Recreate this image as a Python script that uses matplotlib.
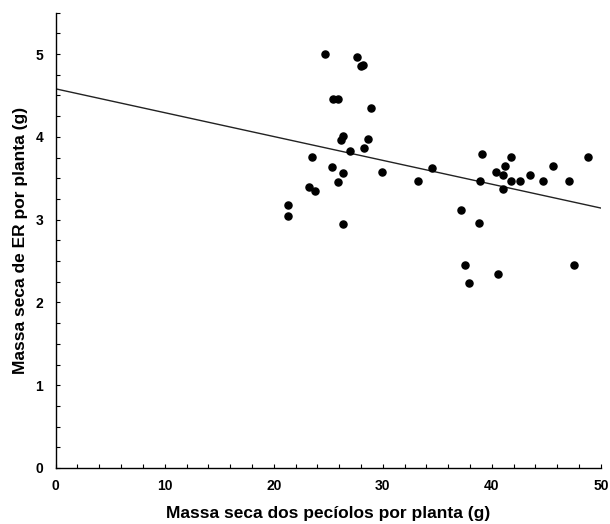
import matplotlib.pyplot as plt
import numpy as np
from matplotlib.ticker import MultipleLocator

# peciole dry mass (g) vs ER dry mass (g) per plant
peciolo = [24.7, 27.6, 28.0, 28.2, 25.4, 25.9, 28.9, 26.35, 26.2, 28.6,
           28.25, 26.96, 23.5, 25.3, 26.35, 29.9, 25.86, 23.25, 23.74, 21.35,
           21.35, 26.35, 33.2, 34.5, 39.06, 41.8, 41.2, 40.4, 41.0, 38.9,
           41.8, 42.6, 43.5, 44.7, 45.6, 47.06, 48.8, 41.0, 37.2, 38.8,
           37.5, 37.9, 40.6, 47.5]
massa_er = [5.00, 4.96, 4.85, 4.87, 4.46, 4.46, 4.35, 4.01, 3.96, 3.97,
            3.87, 3.83, 3.76, 3.63, 3.56, 3.57, 3.46, 3.40, 3.34, 3.18,
            3.04, 2.95, 3.47, 3.62, 3.79, 3.76, 3.65, 3.57, 3.54, 3.47,
            3.47, 3.47, 3.54, 3.47, 3.65, 3.47, 3.76, 3.37, 3.12, 2.96,
            2.45, 2.24, 2.34, 2.45]

# fitted line
fit_intercept = 4.58
fit_slope = -0.0288

plt.rcParams['font.family'] = ['Liberation Sans', 'DejaVu Sans']
plt.rcParams['font.weight'] = 'bold'

fig = plt.figure(figsize=(6.1, 5.24), dpi=100)
ax = fig.add_axes([0.0913, 0.1069, 0.8937, 0.8689])

ax.scatter(peciolo, massa_er, s=26, color='black', zorder=3)
xs = np.array([0, 50])
ax.plot(xs, fit_intercept + fit_slope * xs, color='#222222', lw=1.0)

ax.set_xlim(0, 50)
ax.set_ylim(0, 5.5)
ax.xaxis.set_major_locator(MultipleLocator(10))
ax.xaxis.set_minor_locator(MultipleLocator(2))
ax.yaxis.set_major_locator(MultipleLocator(1))
ax.yaxis.set_minor_locator(MultipleLocator(0.25))
ax.tick_params(which='both', direction='in', length=3, width=0.8, labelsize=10)
ax.tick_params(axis='x', pad=8)
ax.tick_params(axis='y', pad=9)
for lab in ax.get_xticklabels() + ax.get_yticklabels():
    lab.set_fontweight('bold')

ax.spines['top'].set_visible(False)
ax.spines['right'].set_visible(False)
ax.spines['left'].set_linewidth(1.0)
ax.spines['bottom'].set_linewidth(1.0)

ax.set_xlabel('Massa seca dos pecíolos por planta (g)', fontsize=12.5,
              fontweight='bold', labelpad=9)
ax.set_ylabel('Massa seca de ER por planta (g)', fontsize=12.5,
              fontweight='bold', labelpad=5)

fig.savefig('out.png', dpi=100)
